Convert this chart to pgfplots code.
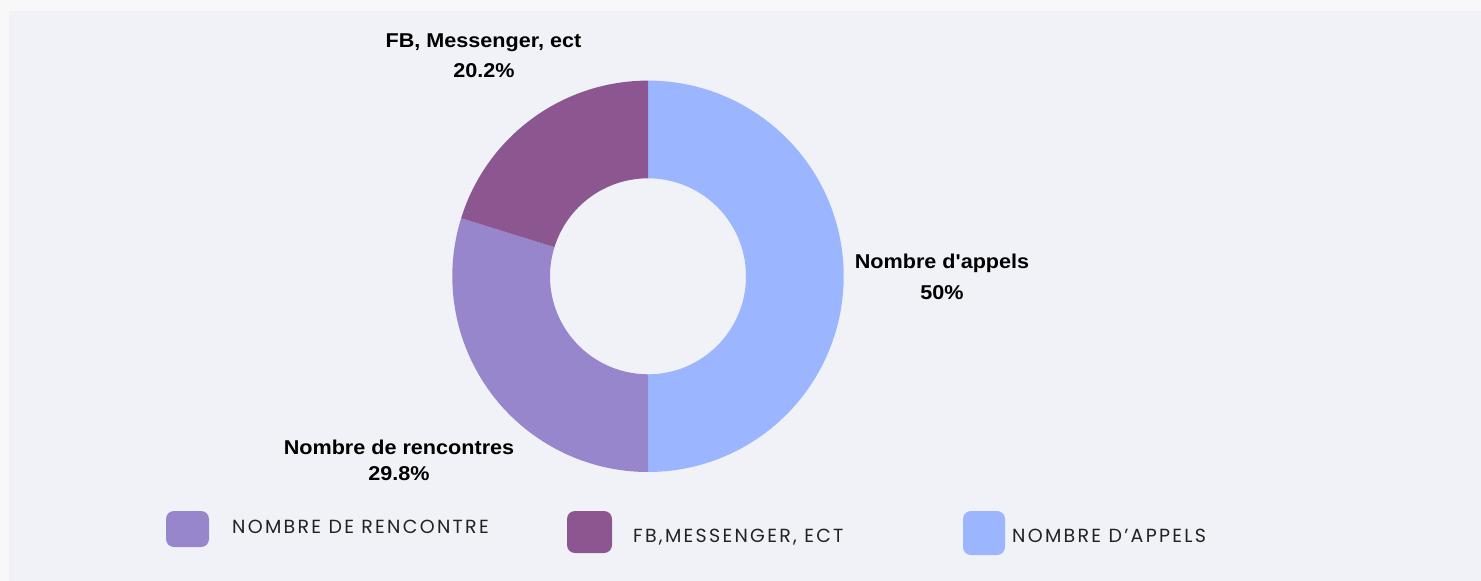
\documentclass[border=0pt]{standalone}
\usepackage{fontspec}
\setmainfont{Liberation Sans}
\newfontfamily\lblfont{Liberation Sans}[FakeStretch=1.08]
\newfontfamily\legfont{Poppins}[LetterSpace=12]
\usepackage{pgfplots}
\pgfplotsset{compat=1.18}
\usetikzlibrary{calc}

\definecolor{outerbg}{HTML}{F8F8F9}
\definecolor{panelbg}{HTML}{F1F2F7}
\definecolor{appels}{HTML}{9BB6FF}
\definecolor{rencontres}{HTML}{9886CC}
\definecolor{fb}{HTML}{8C5791}
\definecolor{legtxt}{HTML}{222222}

\begin{document}
\begin{tikzpicture}
\begin{axis}[
  width=1481pt, height=581pt, scale only axis,
  xmin=0, xmax=1481, ymin=0, ymax=581, y dir=reverse,
  hide axis, clip=false]
\fill[outerbg] (axis cs:0,0) rectangle (axis cs:1481,581);
\fill[panelbg] (axis cs:9,11) rectangle (axis cs:1481,581);

% donut: shares in percent, clockwise from the top
\pgfplotsextra{%
  \gdef\acc{90}%
  \foreach \v/\col in {50/appels,29.8/rencontres,20.2/fb}{%
    \pgfmathsetmacro\aend{\acc-3.6*\v}%
    \fill[\col] ($(axis cs:648,276.3)+(\acc:195.7pt)$)
      arc[start angle=\acc, end angle=\aend, radius=195.7pt]
      -- ($(axis cs:648,276.3)+(\aend:98pt)$)
      arc[start angle=\aend, end angle=\acc, radius=98pt] -- cycle;
    \global\let\acc\aend
  }%
}

\tikzset{lbl/.style={anchor=base, inner sep=0pt, font=\lblfont\bfseries\fontsize{20}{24}\selectfont},
         leg/.style={anchor=base west, inner sep=0pt, text=legtxt, font=\legfont\fontsize{19}{22}\selectfont}}
\node[lbl] at (axis cs:483.5,47) {FB, Messenger, ect};
\node[lbl] at (axis cs:484,77) {20.2\%};
\node[lbl] at (axis cs:942,268) {Nombre d'appels};
\node[lbl] at (axis cs:942,299) {50\%};
\node[lbl] at (axis cs:399,454) {Nombre de rencontres};
\node[lbl] at (axis cs:399,480) {29.8\%};

\fill[rencontres, rounded corners=8pt] (axis cs:166,511) rectangle (axis cs:209,547);
\node[leg] at (axis cs:232,533) {NOMBRE DE RENCONTRE};
\fill[fb, rounded corners=8pt] (axis cs:567,511) rectangle (axis cs:612,553);
\node[leg] at (axis cs:633,542) {FB,MESSENGER, ECT};
\fill[appels, rounded corners=8pt] (axis cs:963,511) rectangle (axis cs:1005,555);
\node[leg] at (axis cs:1012,542) {NOMBRE D’APPELS};
\end{axis}
\end{tikzpicture}
\end{document}
